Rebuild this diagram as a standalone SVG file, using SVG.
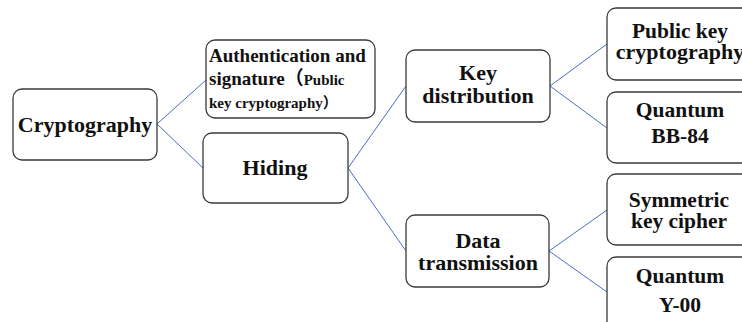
<svg xmlns="http://www.w3.org/2000/svg" width="742" height="322" viewBox="0 0 742 322">
  <style>
    .box { fill: #ffffff; stroke: #3a3a3a; stroke-width: 1.3; }
    .edge { stroke: #4a6fc4; stroke-width: 1; fill: none; }
    .lbl { font-family: 'Liberation Serif', 'Noto Sans CJK SC', serif; font-weight: bold; fill: #111111; }
    .lg { font-size: 22px; text-anchor: middle; }
    .rt { font-size: 21.5px; text-anchor: middle; }
    .md { font-size: 19px; }
    .sm { font-size: 15px; }
  </style>
  <rect width="742" height="322" fill="#ffffff"/>

  <!-- tree branches -->
  <g id="connectors">
    <line class="edge" x1="157" y1="124" x2="206" y2="80"/>
    <line class="edge" x1="157" y1="124" x2="203" y2="168"/>
    <line class="edge" x1="348" y1="168" x2="406" y2="86"/>
    <line class="edge" x1="348" y1="168" x2="406" y2="251"/>
    <line class="edge" x1="550" y1="86" x2="607" y2="44"/>
    <line class="edge" x1="550" y1="86" x2="607" y2="128"/>
    <line class="edge" x1="549" y1="251" x2="607" y2="210"/>
    <line class="edge" x1="549" y1="251" x2="607" y2="292"/>
  </g>

  <g id="cryptography" class="lbl">
    <rect class="box" x="13" y="89" width="144" height="71" rx="9"/>
    <text class="lg" x="85" y="132">Cryptography</text>
  </g>

  <g id="authentication" class="lbl">
    <rect class="box" x="206" y="40" width="169" height="78" rx="9"/>
    <text class="md" x="209" y="62">Authentication and</text>
    <text x="209" y="85"><tspan class="md">signature（</tspan><tspan class="sm">Public</tspan></text>
    <text class="sm" x="209" y="108">key cryptography）</text>
  </g>

  <g id="hiding" class="lbl">
    <rect class="box" x="203" y="133" width="145" height="70" rx="9"/>
    <text class="lg" x="275" y="175">Hiding</text>
  </g>

  <g id="key-distribution" class="lbl">
    <rect class="box" x="406" y="50" width="144" height="72" rx="9"/>
    <text class="lg" x="478" y="80">Key</text>
    <text class="lg" x="478" y="103">distribution</text>
  </g>

  <g id="data-transmission" class="lbl">
    <rect class="box" x="406" y="215" width="143" height="72" rx="9"/>
    <text class="lg" x="478" y="248">Data</text>
    <text class="lg" x="478" y="270">transmission</text>
  </g>

  <!-- box runs past the right edge of the canvas -->
  <g id="public-key" class="lbl">
    <rect class="box" x="607" y="8" width="160" height="72" rx="9"/>
    <text class="rt" x="680" y="38">Public key</text>
    <text class="lg" x="680" y="59">cryptography</text>
  </g>

  <g id="quantum-bb84" class="lbl">
    <rect class="box" x="607" y="92" width="160" height="71" rx="9"/>
    <text class="rt" x="680" y="117">Quantum</text>
    <text class="rt" x="680" y="143">BB-84</text>
  </g>

  <g id="symmetric-key" class="lbl">
    <rect class="box" x="607" y="174" width="160" height="71" rx="9"/>
    <text class="rt" x="679" y="207">Symmetric</text>
    <text class="rt" x="679" y="228">key cipher</text>
  </g>

  <g id="quantum-y00" class="lbl">
    <rect class="box" x="607" y="257" width="160" height="80" rx="9"/>
    <text class="rt" x="680" y="283">Quantum</text>
    <text class="rt" x="680" y="312">Y-00</text>
  </g>
</svg>
